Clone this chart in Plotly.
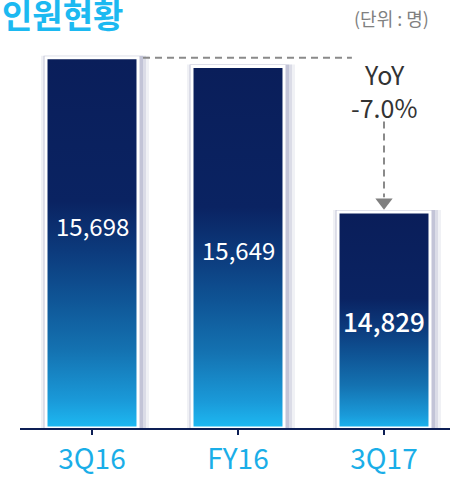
import plotly.graph_objects as go

# ---- data ----
categories = ["3Q16", "FY16", "3Q17"]
headcount = [15698, 15649, 14829]
yoy_label = "YoY"
yoy_text = "-7.0%"
title_text = "인원현황"
unit_text = "(단위 : 명)"

# ---- style / scale ----
Y_MIN, Y_MAX = 13612, 15798
HALF_W = 0.315
PX = 1 / 146.0  # one pixel in x data units
PY = (Y_MAX - Y_MIN) / 395.0  # one pixel in y data units

CYAN_TXT = "#1aaee8"
gradient = [
    [0.0, "#1ec2f9"],
    [0.09, "#1a9ad9"],
    [0.225, "#1472b1"],
    [0.36, "#0f5596"],
    [0.49, "#0c3a7c"],
    [0.62, "#0a2362"],
    [1.0, "#0a1e5a"],
]

fig = go.Figure()

for i, (cat, v) in enumerate(zip(categories, headcount)):
    # soft shadow layers
    for extra_l, extra_r, alpha in [(5, 11, 0.10), (3, 8, 0.16), (2, 5, 0.22)]:
        x0 = i - HALF_W - extra_l * PX
        x1 = i + HALF_W + extra_r * PX
        fig.add_trace(go.Scatter(
            x=[x0, x1, x1, x0, x0],
            y=[Y_MIN, Y_MIN, v + 2 * PY, v + 2 * PY, Y_MIN],
            fill="toself", mode="lines", line=dict(width=0),
            fillcolor=f"rgba(110,115,160,{alpha})",
            hoverinfo="skip", showlegend=False,
        ))
    # bar body with vertical gradient and white border
    x0, x1 = i - HALF_W, i + HALF_W
    fig.add_trace(go.Scatter(
        x=[x0, x1, x1, x0, x0],
        y=[Y_MIN, Y_MIN, v, v, Y_MIN],
        fill="toself", mode="lines",
        line=dict(color="white", width=3),
        fillgradient=dict(type="vertical", colorscale=gradient,
                          start=Y_MIN, stop=v),
        name=cat, showlegend=False,
    ))

# value labels
label_shift = [17, -2, 0]
for i, v in enumerate(headcount):
    last = i == len(headcount) - 1
    fig.add_annotation(
        x=i, y=(Y_MIN + v) / 2, text=f"{v:,}", showarrow=False,
        yshift=label_shift[i],
        font=dict(family="Noto Sans CJK KR", size=26 if last else 24,
                  color="white", weight=500 if last else 400),
    )

# dashed reference line from first bar top
fig.add_shape(type="line", x0=0 + HALF_W + 5 * PX, x1=1.78,
              y0=headcount[0], y1=headcount[0],
              line=dict(color="#8a8a8a", width=2, dash="7px,5px"))

# YoY text (two lines)
fig.add_annotation(x=2, y=headcount[0], yanchor="middle", yshift=-16,
                   text=yoy_label, showarrow=False,
                   font=dict(family="Noto Sans CJK KR", size=25, color="#333333"))
fig.add_annotation(x=2, y=headcount[0], yanchor="middle", yshift=-49,
                   text=yoy_text, showarrow=False,
                   font=dict(family="Noto Sans CJK KR", size=25, color="#333333"))

# dashed arrow down to last bar
fig.add_shape(type="line", x0=2, x1=2,
              y0=headcount[2] + 92 * PY, y1=headcount[2] + 15 * PY,
              line=dict(color="#8a8a8a", width=2, dash="7px,5px"))
fig.add_trace(go.Scatter(x=[2], y=[headcount[2] + 10 * PY], mode="markers",
                         marker=dict(symbol="triangle-down", size=15, color="#7f7f7f"),
                         hoverinfo="skip", showlegend=False))

# title and unit
fig.add_annotation(xref="paper", yref="paper", x=-20 / 430, y=(435 - 14) / 395,
                   xanchor="left", yanchor="middle", text=f"<b>{title_text}</b>",
                   showarrow=False,
                   font=dict(family="Noto Sans CJK KR", size=33, color="#1cb9f1"))
fig.add_annotation(xref="paper", yref="paper", x=(431 - 20) / 430, y=(435 - 18) / 395,
                   xanchor="right", yanchor="middle", text=unit_text,
                   showarrow=False,
                   font=dict(family="Noto Sans CJK KR", size=18, color="#808080"))

fig.update_layout(
    width=450, height=477,
    margin=dict(l=20, r=0, t=40, b=42),
    plot_bgcolor="white", paper_bgcolor="white",
    xaxis=dict(range=[-72 / 146, 358 / 146], tickmode="array",
               tickvals=list(range(len(categories))), ticktext=categories,
               showgrid=False, zeroline=False, showline=True,
               linecolor="#0d1f55", linewidth=2,
               ticks="outside", ticklen=5, tickwidth=2, tickcolor="#0d1f55",
               tickfont=dict(family="Noto Sans CJK KR", size=28, color=CYAN_TXT)),
    yaxis=dict(range=[Y_MIN, Y_MAX], visible=False, showgrid=False, zeroline=False),
    showlegend=False,
)

fig.write_html("out.html",
               config={"displayModeBar": False},
               post_script="document.body.style.margin='0';document.body.style.overflow='hidden';")
